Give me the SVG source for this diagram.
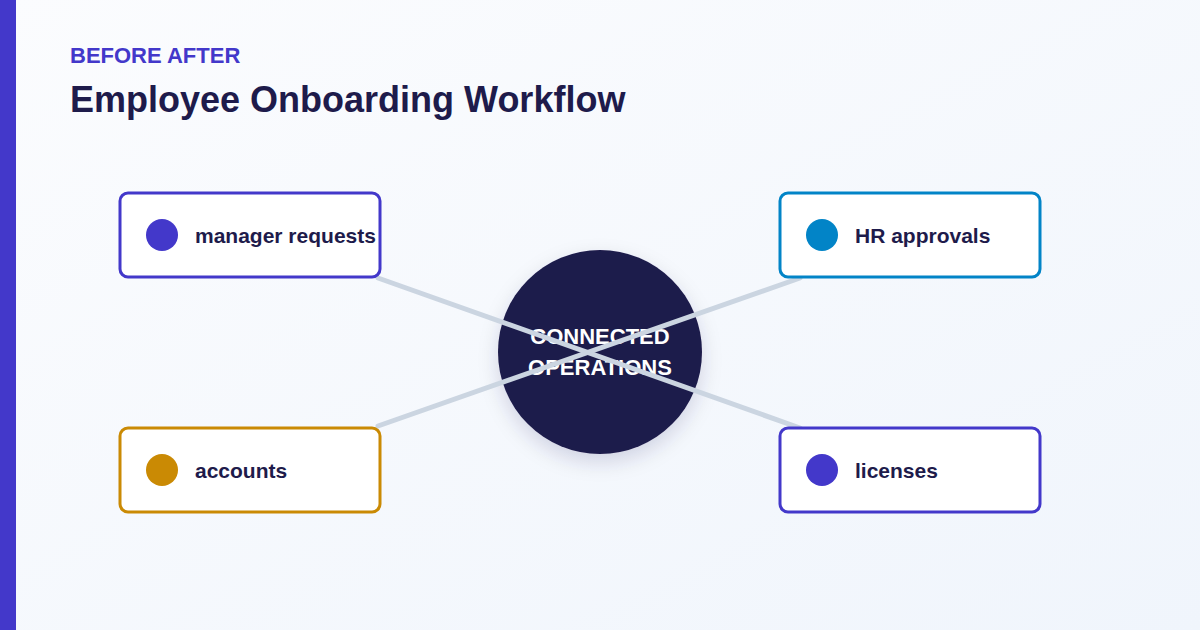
<svg xmlns="http://www.w3.org/2000/svg" width="1200" height="630" viewBox="0 0 1200 630">
<defs>
<linearGradient id="bg" x1="0" y1="0" x2="1" y2="1"><stop offset="0" stop-color="#fbfcfe"/><stop offset="1" stop-color="#f0f5fc"/></linearGradient>
<filter id="sh" x="-30%" y="-30%" width="160%" height="160%"><feDropShadow dx="0" dy="8" stdDeviation="10" flood-color="#1e1b4b" flood-opacity="0.15"/></filter>
</defs>
<style>
.box{fill:#fff;stroke-width:3}
.lbl{font-family:"Liberation Sans",Arial,sans-serif;font-weight:bold;font-size:21px;fill:#1e1b4b}
.ctr{font-family:"Liberation Sans",Arial,sans-serif;font-weight:bold;font-size:22px;fill:#fff;text-anchor:middle}
.con{stroke:#cbd5e1;stroke-width:5;stroke-linecap:round}
</style>
<rect width="1200" height="630" fill="url(#bg)"/>
<rect width="16" height="630" fill="#4338ca"/>
<text x="70" y="63" font-family="Liberation Sans,Arial,sans-serif" font-weight="bold" font-size="22" fill="#4338ca">BEFORE AFTER</text>
<text x="70" y="112" font-family="Liberation Sans,Arial,sans-serif" font-weight="bold" font-size="36" fill="#1e1b4b">Employee Onboarding Workflow</text>
<g id="center"><circle cx="600" cy="352" r="102" fill="#1e1b4b" filter="url(#sh)"/>
<text class="ctr" x="600" y="344">CONNECTED</text><text class="ctr" x="600" y="375">OPERATIONS</text></g>
<g id="connectors">
<line class="con" x1="378" y1="278" x2="800" y2="428"/>
<line class="con" x1="378" y1="426" x2="800" y2="278"/>
</g>
<g id="n1"><rect class="box" x="120" y="193" width="260" height="84" rx="8" stroke="#4338ca"/><circle cx="162" cy="235" r="16" fill="#4338ca"/><text class="lbl" x="195" y="243">manager requests</text></g>
<g id="n2"><rect class="box" x="780" y="193" width="260" height="84" rx="8" stroke="#0284c7"/><circle cx="822" cy="235" r="16" fill="#0284c7"/><text class="lbl" x="855" y="243">HR approvals</text></g>
<g id="n3"><rect class="box" x="120" y="428" width="260" height="84" rx="8" stroke="#ca8a04"/><circle cx="162" cy="470" r="16" fill="#ca8a04"/><text class="lbl" x="195" y="478">accounts</text></g>
<g id="n4"><rect class="box" x="780" y="428" width="260" height="84" rx="8" stroke="#4338ca"/><circle cx="822" cy="470" r="16" fill="#4338ca"/><text class="lbl" x="855" y="478">licenses</text></g>
</svg>
